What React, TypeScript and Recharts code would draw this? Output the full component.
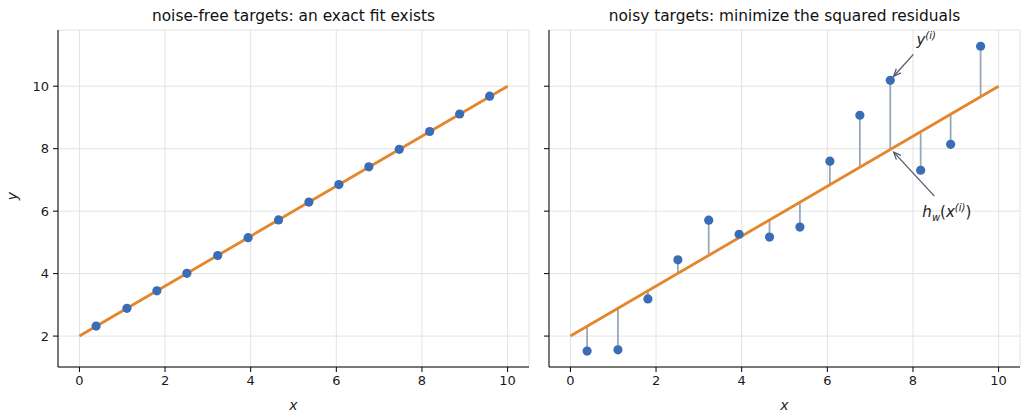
import React from 'react';
import {
  ScatterChart,
  Scatter,
  XAxis,
  YAxis,
  CartesianGrid,
  ReferenceLine,
  ReferenceDot,
} from 'recharts';

// sample inputs and targets
const xs = [0.39, 1.11, 1.81, 2.51, 3.23, 3.94, 4.65, 5.36, 6.06, 6.76, 7.47, 8.18, 8.88, 9.58];
const cleanY = [2.32, 2.89, 3.45, 4.01, 4.58, 5.15, 5.72, 6.29, 6.85, 7.42, 7.98, 8.55, 9.11, 9.68];
const noisyY = [1.52, 1.56, 3.19, 4.44, 5.71, 5.26, 5.17, 5.49, 7.6, 9.07, 10.19, 7.31, 8.14, 11.28];

// fitted line endpoints
const fitX = [0, 10];
const fitY = [2, 10];

const xTicks = [0, 2, 4, 6, 8, 10];
const yTicks = [2, 4, 6, 8, 10];
const xDomain: [number, number] = [-0.5, 10.5];
const yDomain: [number, number] = [1.01, 11.8];

const titles = ['noise-free targets: an exact fit exists', 'noisy targets: minimize the squared residuals'];

// annotation arrows on the right panel: [tail, head, text anchor]
const annotations = [
  { kind: 'y', from: [8.01, 11.02], to: [7.55, 10.32], at: [8.08, 11.47] },
  { kind: 'h', from: [8.5, 6.48], to: [7.55, 7.89], at: [8.22, 5.97] },
];

const FONT = '"DejaVu Sans", sans-serif';
const BLUE = '#3a6db5';
const ORANGE = '#e3862c';
const STEM = '#9aa8b8';
const ARROW = '#505d6c';

const cleanData = xs.map((x, i) => ({ x, y: cleanY[i] }));
const noisyData = xs.map((x, i) => ({ x, y: noisyY[i] }));
const fitData = fitX.map((x, i) => ({ x, y: fitY[i] }));

const Dot = (props: any) => <circle cx={props.cx} cy={props.cy} r={4.6} fill={BLUE} />;

const Arrow = (props: any) => {
  const { x1, y1, x2, y2 } = props;
  const ang = Math.atan2(y2 - y1, x2 - x1);
  const len = 8;
  const spread = 0.4;
  const ax = x2 - len * Math.cos(ang - spread);
  const ay = y2 - len * Math.sin(ang - spread);
  const bx = x2 - len * Math.cos(ang + spread);
  const by = y2 - len * Math.sin(ang + spread);
  return (
    <g stroke={ARROW} strokeWidth={1.3} fill="none">
      <line x1={x1} y1={y1} x2={x2} y2={y2} />
      <polyline points={`${ax},${ay} ${x2},${y2} ${bx},${by}`} />
    </g>
  );
};

const AnnoText = (kind: string) => (props: any) => {
  const { cx, cy } = props;
  const style = { fontFamily: FONT, fill: '#222' };
  if (kind === 'y') {
    return (
      <text x={cx} y={cy} dy={5} fontSize={15} style={style}>
        <tspan fontStyle="italic">y</tspan>
        <tspan fontSize={10} dy={-6} fontStyle="italic">(i)</tspan>
      </text>
    );
  }
  return (
    <text x={cx} y={cy} dy={5} fontSize={15} style={style}>
      <tspan fontStyle="italic">h</tspan>
      <tspan fontSize={10} dy={4} fontStyle="italic">w</tspan>
      <tspan dy={-4}>(</tspan>
      <tspan fontStyle="italic">x</tspan>
      <tspan fontSize={10} dy={-6} fontStyle="italic">(i)</tspan>
      <tspan dy={6}>)</tspan>
    </text>
  );
};

const tickStyle = { fill: '#1a1a1a', fontSize: 13, fontFamily: FONT };

const Panel = ({ noisy, left, width }: { noisy: boolean; left: number; width: number }) => {
  const yAxisWidth = noisy ? 9 : 58;
  return (
    <div style={{ position: 'absolute', left, top: 0, width, height: 420 }}>
      <ScatterChart width={width} height={420} margin={{ top: 30, right: noisy ? 10 : 11, bottom: 0, left: 0 }}>
        <CartesianGrid stroke="#e3e3e3" strokeWidth={1} />
        <XAxis
          type="number"
          dataKey="x"
          domain={xDomain}
          ticks={xTicks}
          allowDataOverflow
          height={53}
          stroke="#000"
          tickSize={5}
          tick={tickStyle}
          tickMargin={4}
          label={{ value: 'x', position: 'insideBottom', offset: 10, fontStyle: 'italic', fontSize: 14, fill: '#222', fontFamily: FONT }}
        />
        <YAxis
          type="number"
          dataKey="y"
          domain={yDomain}
          ticks={yTicks}
          allowDataOverflow
          width={yAxisWidth}
          stroke="#000"
          tickSize={5}
          tick={tickStyle}
          tickMargin={4}
          tickFormatter={noisy ? () => '' : (v: number) => String(v)}
        />
        {noisy &&
          xs.map((x, i) => (
            <ReferenceLine
              key={'stem' + i}
              segment={[
                { x, y: cleanY[i] },
                { x, y: noisyY[i] },
              ]}
              stroke={STEM}
              strokeWidth={1.8}
            />
          ))}
        <Scatter
          data={fitData}
          line={{ stroke: ORANGE, strokeWidth: 2.8 }}
          shape={() => <g />}
          isAnimationActive={false}
        />
        <Scatter data={noisy ? noisyData : cleanData} shape={Dot} isAnimationActive={false} />
        {noisy &&
          annotations.map((a, i) => (
            <ReferenceLine
              key={'arrow' + i}
              segment={[
                { x: a.from[0], y: a.from[1] },
                { x: a.to[0], y: a.to[1] },
              ]}
              shape={Arrow}
            />
          ))}
        {noisy &&
          annotations.map((a, i) => (
            <ReferenceDot key={'txt' + i} x={a.at[0]} y={a.at[1]} r={0} shape={AnnoText(a.kind)} />
          ))}
      </ScatterChart>
    </div>
  );
};

export default function App() {
  return (
    <div
      style={{
        position: 'absolute',
        left: 0,
        top: 0,
        width: 1030,
        height: 420,
        background: '#fff',
        fontFamily: FONT,
        overflow: 'hidden',
      }}
    >
      <Panel noisy={false} left={0} width={540} />
      <Panel noisy={true} left={540} width={490} />
      <div
        style={{
          position: 'absolute',
          left: 58,
          width: 471,
          top: 7,
          textAlign: 'center',
          fontSize: 15.4,
          color: '#111',
        }}
      >
        {titles[0]}
      </div>
      <div
        style={{
          position: 'absolute',
          left: 549,
          width: 471,
          top: 7,
          textAlign: 'center',
          fontSize: 15.4,
          color: '#111',
        }}
      >
        {titles[1]}
      </div>
      <div
        style={{
          position: 'absolute',
          left: 8,
          top: 188,
          fontSize: 14,
          fontStyle: 'italic',
          color: '#222',
          transform: 'rotate(-90deg)',
        }}
      >
        y
      </div>
    </div>
  );
}
